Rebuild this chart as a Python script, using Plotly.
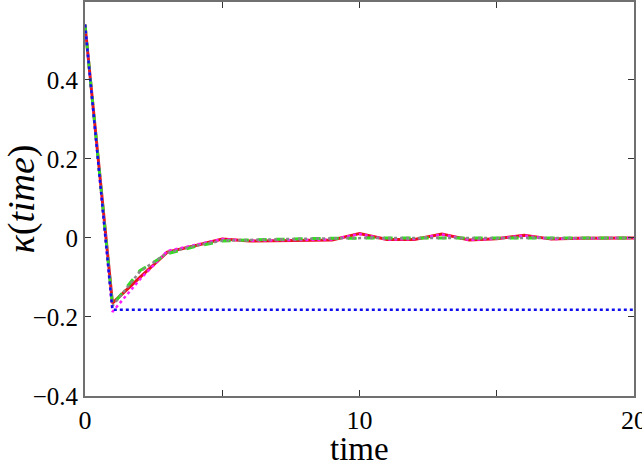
import plotly.graph_objects as go

# time steps
t = list(range(21))

# kappa(time) for each run
red = [0.54, -0.165, -0.10, -0.036, -0.02, -0.003, -0.008, -0.007, -0.006, -0.005, 0.011,
       -0.004, -0.004, 0.010, -0.005, -0.002, 0.007, -0.003, -0.001, 0.0, 0.0]
magenta = [0.54, -0.187, -0.105, -0.033, -0.018, -0.003, -0.007, -0.006, -0.005, -0.004, 0.010,
           -0.004, -0.003, 0.009, -0.005, -0.002, 0.006, -0.003, -0.001, 0.0, 0.0]
green = [0.54, -0.17, -0.083, -0.04, -0.022, -0.008, -0.005, -0.003, -0.002, -0.001, 0.0,
         0.0, 0.0, 0.0, 0.0, 0.0, 0.0, 0.0, 0.0, 0.0, 0.0]
gray = [0.54, -0.172, -0.085, -0.038, -0.02, -0.007, -0.005, -0.003, -0.002, -0.001, 0.0,
        0.0, 0.0, 0.0, 0.0, 0.0, 0.0, 0.0, 0.0, 0.0, 0.0]
blue = [0.54] + [-0.182] * 20

xticks = [0, 5, 10, 15, 20]
xticklabels = ['0', '', '10', '', '20']
yticks = [-0.4, -0.2, 0, 0.2, 0.4]
yticklabels = ['\u22120.4', '\u22120.2', '0', '0.2', '0.4']

serif = 'Liberation Serif'

fig = go.Figure()
fig.add_trace(go.Scatter(x=t, y=red, mode='lines', line=dict(color='#e8141c', width=3)))
fig.add_trace(go.Scatter(x=t, y=magenta, mode='lines', line=dict(color='#ff1aff', width=2.5, dash='dot')))
fig.add_trace(go.Scatter(x=t, y=green, mode='lines', line=dict(color='#33dd22', width=3, dash='dash')))
fig.add_trace(go.Scatter(x=t, y=gray, mode='lines', line=dict(color='#888888', width=2.5, dash='dot')))
fig.add_trace(go.Scatter(x=t, y=blue, mode='lines', line=dict(color='#1010ee', width=2.5, dash='dot')))

axis_common = dict(showgrid=False, zeroline=False, showline=True, linecolor='#707070',
                   linewidth=2, mirror='ticks', ticks='inside', ticklen=6, tickcolor='#333333',
                   tickwidth=1, automargin=False, ticklabeloverflow='allow')

fig.update_layout(
    width=642, height=464,
    margin=dict(l=85, r=8, t=2, b=68),
    paper_bgcolor='white', plot_bgcolor='white',
    showlegend=False,
    font=dict(family=serif, color='black'),
    xaxis=dict(range=[0, 20], tickvals=xticks, ticktext=xticklabels,
               tickfont=dict(family=serif, size=26), **axis_common),
    yaxis=dict(range=[-0.4, 0.597], tickvals=yticks, ticktext=yticklabels,
               tickfont=dict(family=serif, size=25),
               title=dict(text='<i>\u03ba</i>(<i>time</i>)', font=dict(family=serif, size=38), standoff=2),
               **axis_common),
)

# x axis title placed by hand, below the tick labels
fig.add_annotation(text='time', xref='paper', yref='paper', x=0.5, y=-0.135,
                   xanchor='center', yanchor='middle', showarrow=False,
                   font=dict(family=serif, size=33))

# drop the page's default body margin so the figure sits at the window's corner
fig.write_html("out.html", config={'displayModeBar': False},
               post_script="document.body.style.margin='0';")
